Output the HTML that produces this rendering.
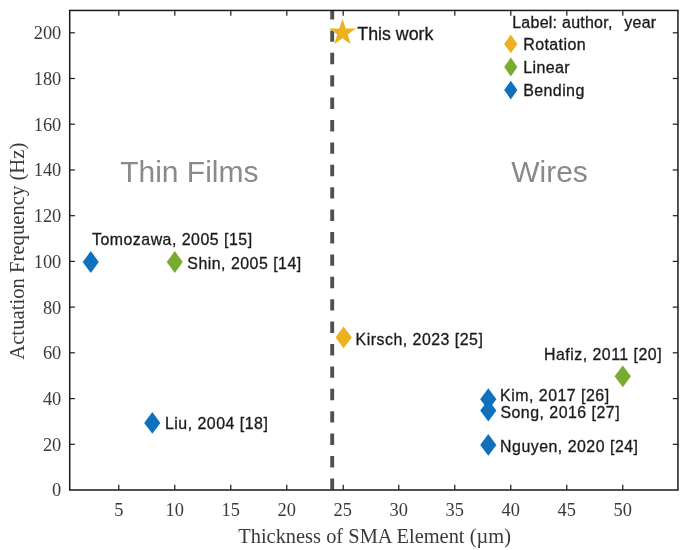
<!DOCTYPE html><html><head><meta charset="utf-8"><title>SMA actuation frequency</title>
<style>html,body{margin:0;padding:0;background:#fff}svg{display:block}.tk{font-family:"Liberation Serif",serif;font-size:18.4px;fill:#3a3a3a}.ax{font-family:"Liberation Serif",serif;font-size:20.5px;fill:#3a3a3a}.lb{font-family:"Liberation Sans",sans-serif;font-size:15.9px;letter-spacing:0.5px;fill:#1a1a1a;stroke:#1a1a1a;stroke-width:0.3px}.big{font-family:"Liberation Sans",sans-serif;font-size:30px;fill:#8a8a8a}</style></head><body>
<svg width="685" height="550" viewBox="0 0 685 550">
<rect width="685" height="550" fill="#fff"/>
<line x1="332.2" y1="8.0" x2="332.2" y2="490.0" stroke="#505050" stroke-width="3.9" stroke-dasharray="11.4 11"/>
<rect x="320" y="0" width="24" height="10.45" fill="#fff"/>
<rect x="69.7" y="10.45" width="608.25" height="479.55" fill="none" stroke="#1a1a1a" stroke-width="1.5"/>
<line x1="118.8" y1="490.0" x2="118.8" y2="484.8" stroke="#1a1a1a" stroke-width="1.2"/>
<line x1="118.8" y1="10.45" x2="118.8" y2="15.649999999999999" stroke="#1a1a1a" stroke-width="1.2"/>
<text class="tk" x="118.8" y="515.7" text-anchor="middle">5</text>
<line x1="174.8" y1="490.0" x2="174.8" y2="484.8" stroke="#1a1a1a" stroke-width="1.2"/>
<line x1="174.8" y1="10.45" x2="174.8" y2="15.649999999999999" stroke="#1a1a1a" stroke-width="1.2"/>
<text class="tk" x="174.8" y="515.7" text-anchor="middle">10</text>
<line x1="230.8" y1="490.0" x2="230.8" y2="484.8" stroke="#1a1a1a" stroke-width="1.2"/>
<line x1="230.8" y1="10.45" x2="230.8" y2="15.649999999999999" stroke="#1a1a1a" stroke-width="1.2"/>
<text class="tk" x="230.8" y="515.7" text-anchor="middle">15</text>
<line x1="286.8" y1="490.0" x2="286.8" y2="484.8" stroke="#1a1a1a" stroke-width="1.2"/>
<line x1="286.8" y1="10.45" x2="286.8" y2="15.649999999999999" stroke="#1a1a1a" stroke-width="1.2"/>
<text class="tk" x="286.8" y="515.7" text-anchor="middle">20</text>
<line x1="343.2" y1="490.0" x2="343.2" y2="484.8" stroke="#1a1a1a" stroke-width="1.2"/>
<line x1="343.2" y1="10.45" x2="343.2" y2="15.649999999999999" stroke="#1a1a1a" stroke-width="1.2"/>
<text class="tk" x="342.8" y="515.7" text-anchor="middle">25</text>
<line x1="398.8" y1="490.0" x2="398.8" y2="484.8" stroke="#1a1a1a" stroke-width="1.2"/>
<line x1="398.8" y1="10.45" x2="398.8" y2="15.649999999999999" stroke="#1a1a1a" stroke-width="1.2"/>
<text class="tk" x="398.8" y="515.7" text-anchor="middle">30</text>
<line x1="454.8" y1="490.0" x2="454.8" y2="484.8" stroke="#1a1a1a" stroke-width="1.2"/>
<line x1="454.8" y1="10.45" x2="454.8" y2="15.649999999999999" stroke="#1a1a1a" stroke-width="1.2"/>
<text class="tk" x="454.8" y="515.7" text-anchor="middle">35</text>
<line x1="510.8" y1="490.0" x2="510.8" y2="484.8" stroke="#1a1a1a" stroke-width="1.2"/>
<line x1="510.8" y1="10.45" x2="510.8" y2="15.649999999999999" stroke="#1a1a1a" stroke-width="1.2"/>
<text class="tk" x="510.8" y="515.7" text-anchor="middle">40</text>
<line x1="566.8" y1="490.0" x2="566.8" y2="484.8" stroke="#1a1a1a" stroke-width="1.2"/>
<line x1="566.8" y1="10.45" x2="566.8" y2="15.649999999999999" stroke="#1a1a1a" stroke-width="1.2"/>
<text class="tk" x="566.8" y="515.7" text-anchor="middle">45</text>
<line x1="622.8" y1="490.0" x2="622.8" y2="484.8" stroke="#1a1a1a" stroke-width="1.2"/>
<line x1="622.8" y1="10.45" x2="622.8" y2="15.649999999999999" stroke="#1a1a1a" stroke-width="1.2"/>
<text class="tk" x="622.8" y="515.7" text-anchor="middle">50</text>
<text class="tk" x="61.3" y="496.4" text-anchor="end">0</text>
<line x1="69.7" y1="444.3" x2="74.9" y2="444.3" stroke="#1a1a1a" stroke-width="1.2"/>
<line x1="677.95" y1="444.3" x2="672.75" y2="444.3" stroke="#1a1a1a" stroke-width="1.2"/>
<text class="tk" x="61.3" y="450.6" text-anchor="end">20</text>
<line x1="69.7" y1="398.6" x2="74.9" y2="398.6" stroke="#1a1a1a" stroke-width="1.2"/>
<line x1="677.95" y1="398.6" x2="672.75" y2="398.6" stroke="#1a1a1a" stroke-width="1.2"/>
<text class="tk" x="61.3" y="404.9" text-anchor="end">40</text>
<line x1="69.7" y1="352.8" x2="74.9" y2="352.8" stroke="#1a1a1a" stroke-width="1.2"/>
<line x1="677.95" y1="352.8" x2="672.75" y2="352.8" stroke="#1a1a1a" stroke-width="1.2"/>
<text class="tk" x="61.3" y="359.2" text-anchor="end">60</text>
<line x1="69.7" y1="307.1" x2="74.9" y2="307.1" stroke="#1a1a1a" stroke-width="1.2"/>
<line x1="677.95" y1="307.1" x2="672.75" y2="307.1" stroke="#1a1a1a" stroke-width="1.2"/>
<text class="tk" x="61.3" y="313.5" text-anchor="end">80</text>
<line x1="69.7" y1="261.4" x2="74.9" y2="261.4" stroke="#1a1a1a" stroke-width="1.2"/>
<line x1="677.95" y1="261.4" x2="672.75" y2="261.4" stroke="#1a1a1a" stroke-width="1.2"/>
<text class="tk" x="61.3" y="267.8" text-anchor="end">100</text>
<line x1="69.7" y1="215.7" x2="74.9" y2="215.7" stroke="#1a1a1a" stroke-width="1.2"/>
<line x1="677.95" y1="215.7" x2="672.75" y2="215.7" stroke="#1a1a1a" stroke-width="1.2"/>
<text class="tk" x="61.3" y="222.0" text-anchor="end">120</text>
<line x1="69.7" y1="170.0" x2="74.9" y2="170.0" stroke="#1a1a1a" stroke-width="1.2"/>
<line x1="677.95" y1="170.0" x2="672.75" y2="170.0" stroke="#1a1a1a" stroke-width="1.2"/>
<text class="tk" x="61.3" y="176.3" text-anchor="end">140</text>
<line x1="69.7" y1="124.2" x2="74.9" y2="124.2" stroke="#1a1a1a" stroke-width="1.2"/>
<line x1="677.95" y1="124.2" x2="672.75" y2="124.2" stroke="#1a1a1a" stroke-width="1.2"/>
<text class="tk" x="61.3" y="130.6" text-anchor="end">160</text>
<line x1="69.7" y1="78.5" x2="74.9" y2="78.5" stroke="#1a1a1a" stroke-width="1.2"/>
<line x1="677.95" y1="78.5" x2="672.75" y2="78.5" stroke="#1a1a1a" stroke-width="1.2"/>
<text class="tk" x="61.3" y="84.9" text-anchor="end">180</text>
<line x1="69.7" y1="32.8" x2="74.9" y2="32.8" stroke="#1a1a1a" stroke-width="1.2"/>
<line x1="677.95" y1="32.8" x2="672.75" y2="32.8" stroke="#1a1a1a" stroke-width="1.2"/>
<text class="tk" x="61.3" y="39.2" text-anchor="end">200</text>
<text class="ax" x="374.6" y="542.6" text-anchor="middle" style="font-size:20.4px;word-spacing:0.1px">Thickness of SMA Element (µm)</text>
<text class="ax" transform="translate(24,251.2) rotate(-90)" text-anchor="middle" style="font-size:20.7px">Actuation Frequency (Hz)</text>
<text class="big" x="189.3" y="182" text-anchor="middle">Thin Films</text>
<text class="big" x="549.5" y="182" text-anchor="middle">Wires</text>
<path d="M90.8 251.1 L98.8 262.0 L90.8 272.9 L82.7 262.0 Z" fill="#0f71bd"/>
<text class="lb" x="92.0" y="244.8">Tomozawa, 2005 [15]</text>
<path d="M174.8 251.1 L182.8 262.0 L174.8 272.9 L166.7 262.0 Z" fill="#77ac30"/>
<text class="lb" x="187.3" y="268.8">Shin, 2005 [14]</text>
<path d="M152.3 412.0 L160.4 422.9 L152.3 433.8 L144.2 422.9 Z" fill="#0f71bd"/>
<text class="lb" x="165.0" y="429.1">Liu, 2004 [18]</text>
<path d="M343.6 326.5 L351.8 337.4 L343.6 348.3 L335.5 337.4 Z" fill="#edb120"/>
<text class="lb" x="355.6" y="344.9">Kirsch, 2023 [25]</text>
<path d="M622.8 365.4 L630.9 376.3 L622.8 387.2 L614.6 376.3 Z" fill="#77ac30"/>
<text class="lb" x="544" y="359.8">Hafiz, 2011 [20]</text>
<path d="M488.3 388.3 L496.4 399.2 L488.3 410.1 L480.2 399.2 Z" fill="#0f71bd"/>
<text class="lb" x="500.1" y="401.0">Kim, 2017 [26]</text>
<path d="M488.3 399.7 L496.4 410.6 L488.3 421.5 L480.2 410.6 Z" fill="#0f71bd"/>
<text class="lb" x="500.4" y="417.9">Song, 2016 [27]</text>
<path d="M488.3 434.0 L496.4 444.9 L488.3 455.8 L480.2 444.9 Z" fill="#0f71bd"/>
<text class="lb" x="500.1" y="452.1">Nguyen, 2020 [24]</text>
<polygon points="342.5,18.7 345.7,28.4 355.9,28.4 347.7,34.5 350.8,44.2 342.5,38.3 334.2,44.2 337.3,34.5 329.1,28.4 339.3,28.4" fill="#edb120"/>
<text class="lb" x="357.3" y="40" style="font-size:17.8px;letter-spacing:0">This work</text>
<text class="lb" x="512.2" y="27.7" style="font-size:16px;letter-spacing:0.25px">Label: author,&#160; <tspan dx="2.2">year</tspan></text>
<path d="M510.8 34.5 L517.4 43.9 L510.8 53.3 L504.2 43.9 Z" fill="#edb120"/>
<text class="lb" x="523.2" y="50.1" style="font-size:16px;letter-spacing:0.4px">Rotation</text>
<path d="M510.8 57.6 L517.4 67.0 L510.8 76.4 L504.2 67.0 Z" fill="#77ac30"/>
<text class="lb" x="523.2" y="73.2" style="font-size:16px;letter-spacing:0.4px">Linear</text>
<path d="M510.8 80.7 L517.4 90.1 L510.8 99.5 L504.2 90.1 Z" fill="#0f71bd"/>
<text class="lb" x="523.2" y="96.3" style="font-size:16px;letter-spacing:0.4px">Bending</text>
</svg></body></html>
